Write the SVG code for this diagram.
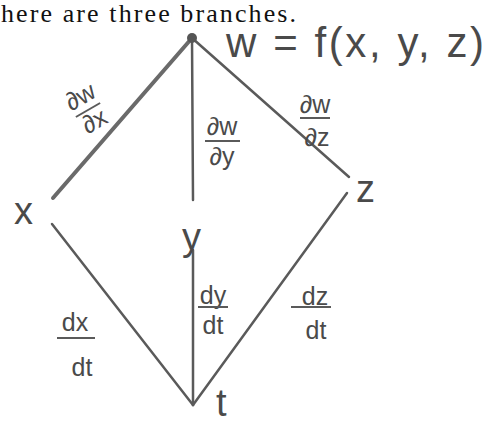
<svg xmlns="http://www.w3.org/2000/svg" width="488" height="423" viewBox="0 0 488 423">
<style>
.hd{font-family:"Liberation Serif",serif;font-size:26px;fill:#111}
.hw{font-family:"Liberation Sans",sans-serif;fill:#4a4a4a}
.lbl{font-size:38px}
.fr{font-size:25px;text-anchor:middle}
.ln{stroke:#5a5a5a;stroke-width:2.5;fill:none;stroke-linecap:round}
.bar{stroke:#5a5a5a;stroke-width:2}
</style>
<rect width="488" height="423" fill="#fff"/>
<text class="hd" x="1" y="22" textLength="295">here are three branches.</text>
<g id="connectors">
<line class="ln" x1="192" y1="38" x2="53" y2="198" style="stroke-width:4;stroke:#6a6a6a"/>
<line class="ln" x1="192" y1="38" x2="193" y2="200"/>
<line class="ln" x1="192" y1="38" x2="349" y2="177"/>
<line class="ln" x1="52" y1="224" x2="193" y2="405"/>
<line class="ln" x1="193" y1="250" x2="193" y2="405"/>
<line class="ln" x1="347" y1="193" x2="193" y2="405"/>
</g>
<g id="edge-labels" class="hw">
<g transform="rotate(-30 88 110)"><text class="fr" x="88" y="103">∂w</text><line class="bar" x1="74" y1="110" x2="102" y2="110"/><text class="fr" x="88" y="131">∂x</text></g>
<text class="fr" x="222" y="135">∂w</text><line class="bar" x1="205" y1="141" x2="240" y2="141"/><text class="fr" x="222" y="165">∂y</text>
<text class="fr" x="315" y="113">∂w</text><line class="bar" x1="300" y1="118" x2="330" y2="118"/><text class="fr" x="317" y="146">∂z</text>
<text class="fr" x="75" y="331">dx</text><line class="bar" x1="57" y1="338" x2="95" y2="338"/><text class="fr" x="82" y="376">dt</text>
<text class="fr" x="213" y="304">dy</text><line class="bar" x1="198" y1="307" x2="228" y2="307"/><text class="fr" x="213" y="334">dt</text>
<text class="fr" x="315" y="305">dz</text><line class="bar" x1="291" y1="307" x2="331" y2="307"/><text class="fr" x="316" y="339">dt</text>
</g>
<g id="node-w">
<circle cx="192" cy="38" r="5" fill="#555"/>
<text class="hw" x="226" y="57" font-size="42" textLength="258">w = f(x, y, z)</text>
</g>
<g id="node-x"><text class="hw lbl" x="14" y="224">x</text></g>
<g id="node-y"><text class="hw lbl" x="182" y="250">y</text></g>
<g id="node-z"><text class="hw lbl" x="356" y="202">z</text></g>
<g id="node-t"><text class="hw lbl" x="216" y="416">t</text></g>
</svg>
